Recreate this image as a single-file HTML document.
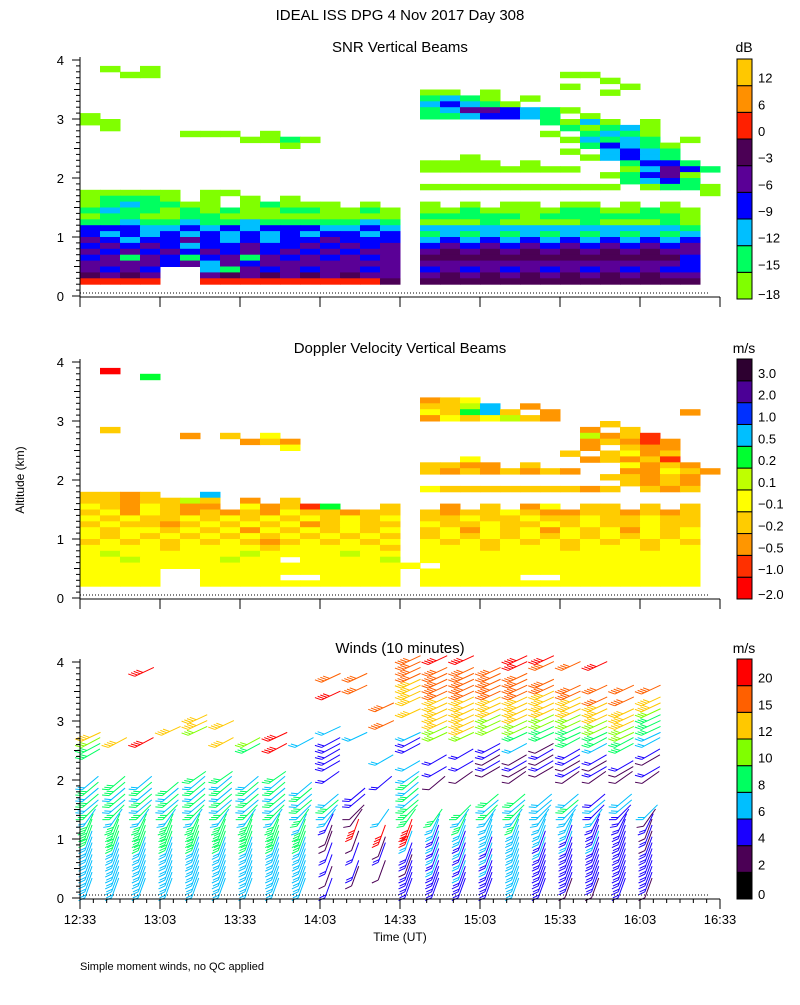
<!DOCTYPE html>
<html><head><meta charset="utf-8">
<style>
body{margin:0;background:#fff;}
svg text{font-family:"Liberation Sans",sans-serif;fill:#000;}
</style></head>
<body>
<svg id="c" width="800" height="1000" xmlns="http://www.w3.org/2000/svg">
<rect width="800" height="1000" fill="#fff"/>
<text x="400" y="20" font-size="15" text-anchor="middle">IDEAL ISS DPG    4 Nov 2017 Day 308</text>
<text x="400" y="52" font-size="15" text-anchor="middle">SNR Vertical Beams</text>
<text x="400" y="353" font-size="15" text-anchor="middle">Doppler Velocity Vertical Beams</text>
<text x="400" y="653" font-size="15" text-anchor="middle">Winds (10 minutes)</text>
<text x="0" y="0" font-size="12" text-anchor="middle" transform="translate(24,480) rotate(-90)">Altitude (km)</text>
<text x="400" y="941" font-size="12" text-anchor="middle">Time (UT)</text>
<text x="80" y="970" font-size="11">Simple moment winds, no QC applied</text>
<text x="744" y="52" font-size="14" text-anchor="middle">dB</text>
<text x="744" y="353" font-size="14" text-anchor="middle">m/s</text>
<text x="744" y="653" font-size="14" text-anchor="middle">m/s</text>
<g id="g"></g>
</svg>
<script>
// ---- data ----
const snrRows = [
"",".0.0","..00....................00","..........................0","........................0..0",
".................00.0.....0",".................1210.0",".................23210",".................12443210",
"0................1123321.0","00.....................1020.0",".0......................10120",
".....000.0.............0.1210","........0010............02121.0","..........0..............13210",
"........................0.2321","...................0.....02321",".................0000.0....1331",
".................00000000..02431","..........................01340","...........................1231",
".................0000000000.0110","00000.00.......................0","01110.0.0.0.....",
"0121100.01000.0..0.0.00.00.0.0","1211010100110010.00100001100100","0110011000000000.11111011111110",
"1121121121111121.00010000100010","3332232323332232.22222222222221","3232323232323323.12121212121212",
"4323343232334333.23232323232323","3434323343343434.34343434343434","4343434343434344.45454545454544",
"3414313414343434.55555555555553","4444342434444444.44444444444443","4343..2143434434.34343434343433",
"5454..4545454544.45454545454544","6666..6666666665.55555555555555"];
const snrTicks = ["-18","-15","-12","-9","-6","-3","0","6","12"];
const snrColors = ["#80ff00","#00ff60","#00bfff","#0000ff","#5a0096","#4b0055","#ff2000","#ff9000","#ffc800"];

const velRows = [
"",".0","...6","","","",".................234..",".................3357.2",
".................43673.2......2",".................2434532","..........................3",
".3.......................2.3",".....2.3.4...............5231","........232..............23212",
"..........4..............2.322","........................3.3423","...................4.....23231",
".................3322.3....4232",".................32323232..22432","..........................33232",
"...........................3232",".................4333333323.323","3323..7.","3323353.2.3",
"4324322.42316..3..2.3.24.33.3.3","3424323232433233.32334322332323","4343343434343434.33433433433433",
"3433234343423433.43343343433433","4344343424343434.34243424342434","4343434343434343.34343434343434",
"3434343432343434.43434343434343","4444344443444443.44434443444344","4544444454444544.44444444444444",
"4454444544.44445.44444444444444","44444444444444444.4444444444444","4444..4444444444.44444444444444",
"4444..4444..4444.44444..4444444","4444..4444444444.44444444444444"];
const velTicks = ["-2.0","-1.0","-0.5","-0.2","-0.1","0.1","0.2","0.5","1.0","2.0","3.0"];
const velColors = ["#ff0000","#ff3000","#ff9600","#ffcc00","#ffff00","#bfff00","#00ff30","#00bfff","#0030ff","#4b0096","#2d0030"];

const windCols = [
"3333333334443434343....4456","3333333344443434344......6","3333333344443434343......8...........8",
"333333334444343434.........6","33333333444434343434.......566","33333333444434343434.....6..6",
"3333333344443434343.....45","33333333444434343434....8.8","333333334443434343.......3",
"2.1.2.2.11.23343...2.22222.3.....8..7","..12..2.1.8.11.22.........3.......7.7","...1..21.8..3.....2...3.....7..7",
"2222122.388.44434343.3..223...6.6666777778","2222323232334.....1.2.2...556666677777.88","22232323233434.....1.2.2..566666677777.8",
"2222323233333434....12122..55566677777..8","3333333333343434...1121.3.45566667777.88","2222222323333333....12121.4455666677..78",
"1222222232333343...12122.4445566677...7","1222222232223232...1212.344556667.7...8","2222222222222233...112..4455666.7.7",
"12222222121213.....12.12.33444566.7"];
const windElev = [70,70,70,70,70,70,70,70,70,70,70,65,55,45,40,40,40,40,40,35,30,30,30,30,28,28,25,25,25,25,25,25,25,25,25,25,25,25,25,25];
const windTicks = ["0","2","4","6","8","10","12","15","20"];
const windColors = ["#000000","#4b0055","#1a00ff","#00bfff","#00ff60","#80ff00","#ffc800","#ff6000","#ff0000"];
const timeLabels = ["12:33","13:03","13:33","14:03","14:33","15:03","15:33","16:03","16:33"];

// ---- scales ----
const X0=80, XW=640, TOTAL=240;
function xs(min){return X0+min*XW/TOTAL;}
function ys(y0,km){return y0-km*59;}
const g=document.getElementById('g');
const NS="http://www.w3.org/2000/svg";
function el(t,a){const e=document.createElementNS(NS,t);for(const k in a)e.setAttribute(k,a[k]);g.appendChild(e);return e;}

function heat(rows,colors,y0,name){
  rows.forEach((row,r)=>{
    for(let i=0;i<row.length;i++){
      const ch=row[i]; if(ch==='.')continue;
      const v=parseInt(ch,16);
      const top=4.0-0.1*r;
      const x=xs(i*7.5), y=ys(y0,top);
      const e=el('rect',{x:x,y:y,width:xs((i+1)*7.5)-x+0.5,height:5.9+0.5,fill:colors[v]});
      
      
    }
  });
}
function axes(y0,withLabels,name){
  let e=el('line',{x1:X0,y1:ys(y0,4.05),x2:X0,y2:y0+1,stroke:'#000'});
  
  
  e=el('line',{x1:X0,y1:y0+1,x2:X0+XW,y2:y0+1,stroke:'#000'});
  
  
  el('line',{x1:X0,y1:y0-3,x2:X0+XW-10,y2:y0-3,stroke:'#000','stroke-dasharray':'1,2'});
  for(let k=0;k<=40;k++){
    const y=ys(y0,k/10), len=k%10===0?8:(k%5===0?6:4);
    el('line',{x1:X0-len,y1:y,x2:X0,y2:y,stroke:'#000'});
  }
  for(let k=0;k<=4;k++){
    e=el('text',{x:X0-16,y:ys(y0,k)+5,'font-size':13,'text-anchor':'end'});
    e.textContent=String(k);
    
    
  }
  for(let m=0;m<=TOTAL;m+=(withLabels?5:30)){
    const len=m%30===0?10:4;
    el('line',{x1:xs(m),y1:y0+1,x2:xs(m),y2:y0+1+len,stroke:'#000'});
  }
  if(withLabels){
    timeLabels.forEach((t,k)=>{
      e=el('text',{x:xs(k*30),y:y0+26,'font-size':13,'text-anchor':'middle'});
      e.textContent=t;
      
      
    });
  }
}
function cbar(colors,ticks,top,bot,name){
  const n=colors.length, h=(bot-top)/n;
  colors.forEach((c,k)=>{
    const e=el('rect',{x:737,y:bot-(k+1)*h,width:15,height:h,fill:c,stroke:'#000','stroke-width':1});
    
    
    const t=el('text',{x:758,y:bot-k*h-(k===0?0:3),'font-size':13});
    t.textContent=ticks[k].replace('-','\u2212');
    
    
  });
}
function winds(y0){
  windCols.forEach((col,k)=>{
    const x=xs(2.6+10*k);
    for(let i=0;i<col.length;i++){
      const ch=col[i]; if(ch==='.')continue;
      const v=parseInt(ch), km=0.1*(i+1), y=ys(y0,km);
      const a=windElev[i]*Math.PI/180, c=Math.cos(a), s=Math.sin(a);
      const xa=x-6*c, ya=y+6*s, xb=x+15*c, yb=y-15*s;
      const col_=windColors[v];
      const sh=el('line',{x1:xa,y1:ya,x2:xb,y2:yb,stroke:col_,'stroke-width':1});
      
      
      const nf=Math.min(4,Math.floor(v/2)+1);
      for(let f=0;f<nf;f++){
        const px=xa+f*3*c, py=ya-f*3*s;
        const fa=a+Math.PI*0.75;
        el('line',{x1:px,y1:py,x2:px+7*Math.cos(fa),y2:py-7*Math.sin(fa),stroke:col_,'stroke-width':1});
      }
    }
  });
}
heat(snrRows,snrColors,296,'snr');
heat(velRows,velColors,598,'velocity');
winds(898);
axes(296,false,'snr');
axes(598,false,'velocity');
axes(898,true,'winds');
cbar(snrColors,snrTicks,59,299,'snr');
cbar(velColors,velTicks,359,599,'velocity');
cbar(windColors,windTicks,659,899,'winds');
</script>
</body></html>
